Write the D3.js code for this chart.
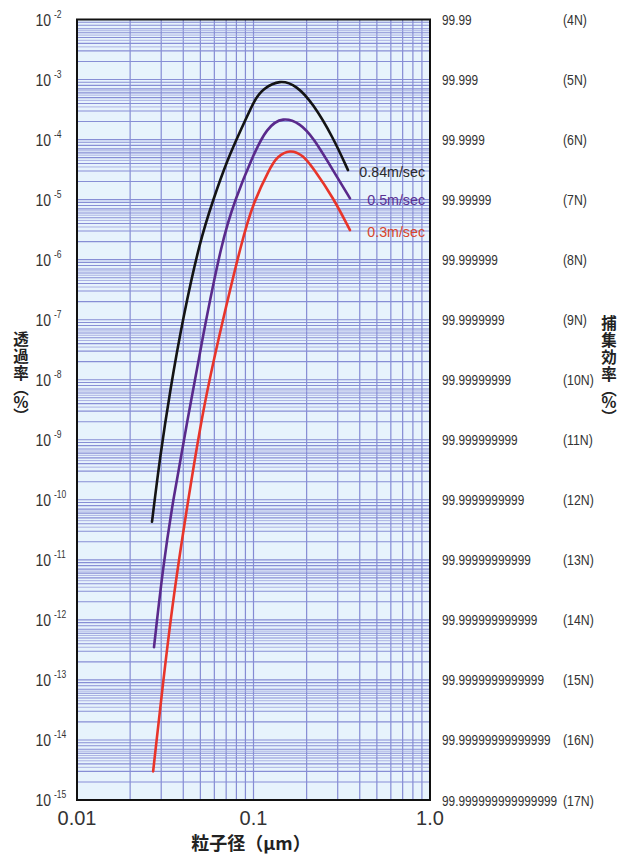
<!DOCTYPE html>
<html>
<head>
<meta charset="utf-8">
<script src="https://cdn.jsdelivr.net/npm/d3@7"></script>
<style>
  body { margin: 0; background: #fff; }
  svg { display: block; }
</style>
</head>
<body>
<script>
// penetration curves: [particle size um, penetration %]
var v084 = [[0.0266, 4.3e-11], [0.0295, 5.1e-10], [0.0337, 6.7e-9], [0.0399, 1.1e-7],
    [0.0498, 2.1e-6], [0.0590, 9.8e-6], [0.0708, 4.5e-5], [0.0861, 1.6e-4],
    [0.102, 4.8e-4], [0.113, 7.0e-4], [0.141, 1.0e-3], [0.176, 7.9e-4], [0.217, 4.0e-4],
    [0.282, 1.1e-4], [0.343, 3.1e-5]];
var v05 = [[0.0273, 3.5e-13], [0.0307, 7.6e-12], [0.0350, 1.0e-10], [0.0420, 1.9e-9],
    [0.0511, 4.6e-8], [0.0663, 2.1e-6], [0.0785, 9.8e-6], [0.098, 5.0e-5],
    [0.119, 1.6e-4], [0.147, 2.4e-4], [0.184, 1.86e-4], [0.217, 1.1e-4], [0.282, 3.1e-5],
    [0.352, 1.05e-5]];
var v03 = [[0.0270, 3.0e-15], [0.0307, 8.9e-14], [0.0350, 2.2e-12], [0.0409, 4.6e-11],
    [0.0518, 3.5e-9], [0.0663, 8.7e-8], [0.0861, 2.1e-6], [0.0994, 8.7e-6],
    [0.124, 3.4e-5], [0.136, 5.2e-5], [0.161, 6.9e-5], [0.191, 5.5e-5], [0.217, 3.4e-5],
    [0.282, 1.1e-5], [0.352, 3.1e-6]];

var seriesNames = ["0.84m/sec", "0.5m/sec", "0.3m/sec"];
var seriesColors = ["#141414", "#5a2a8c", "#e8352a"];
var labelColors = ["#2a2a2a", "#5b3294", "#d8462c"];

var yExps = [-2, -3, -4, -5, -6, -7, -8, -9, -10, -11, -12, -13, -14, -15];
var effLabels = ["99.99", "99.999", "99.9999", "99.99999", "99.999999", "99.9999999",
    "99.99999999", "99.999999999", "99.9999999999", "99.99999999999", "99.999999999999",
    "99.9999999999999", "99.99999999999999", "99.999999999999999"];
var nLabels = ["(4N)", "(5N)", "(6N)", "(7N)", "(8N)", "(9N)", "(10N)", "(11N)",
    "(12N)", "(13N)", "(14N)", "(15N)", "(16N)", "(17N)"];
var xTicks = [0.01, 0.1, 1];
var xTickLabels = ["0.01", "0.1", "1.0"];
var minorSteps = [2, 3, 4, 5, 6, 7, 8, 9];
var halfSteps = [3.5, 4.5, 5.5, 6.5];

var W = 621, H = 855;
var sans = "'Liberation Sans', Arial, Helvetica, sans-serif";
var cjk = "'Noto Sans CJK JP', 'Noto Sans CJK SC', sans-serif";

var x = d3.scaleLog().domain([0.01, 1]).range([77, 430]);
var y = d3.scaleLog().domain([1e-15, 1e-2]).range([800, 19.5]);

var svg = d3.select("body").append("svg")
    .attr("width", W)
    .attr("height", H);

// squeezed text (the original uses a condensed face)
function squeeze(sel, px, py, s) {
    return sel.attr("transform", function (d, i) {
        return "translate(" + px(d, i) + "," + py(d, i) + ") scale(" + s + ",1)";
    });
}

svg.append("rect")
    .attr("x", x(0.01)).attr("y", y(1e-2))
    .attr("width", x(1) - x(0.01)).attr("height", y(1e-15) - y(1e-2))
    .attr("fill", "#e7f3fc");

var grid = svg.append("g");

// vertical grid
var vVals = [];
[0.01, 0.1].forEach(function (dec) {
    minorSteps.forEach(function (k) { vVals.push(dec * k); });
});
vVals.push(0.1);
grid.selectAll(".vl").data(vVals).enter().append("line")
    .attr("x1", function (d) { return x(d); })
    .attr("x2", function (d) { return x(d); })
    .attr("y1", y(1e-2)).attr("y2", y(1e-15))
    .attr("stroke", "#858cd4").attr("stroke-width", 1.2);

// horizontal grid
var hVals = [], hHalf = [];
yExps.forEach(function (e) {
    if (e === -2) return;
    var dec = Math.pow(10, e);
    minorSteps.forEach(function (k) { hVals.push(dec * k); });
    halfSteps.forEach(function (k) { hHalf.push(dec * k); });
    hVals.push(dec);
});
grid.selectAll(".hh").data(hHalf).enter().append("line")
    .attr("x1", x(0.01)).attr("x2", x(1))
    .attr("y1", function (d) { return y(d); })
    .attr("y2", function (d) { return y(d); })
    .attr("stroke", "#a4aae0").attr("stroke-width", 0.9);
grid.selectAll(".hl").data(hVals).enter().append("line")
    .attr("x1", x(0.01)).attr("x2", x(1))
    .attr("y1", function (d) { return y(d); })
    .attr("y2", function (d) { return y(d); })
    .attr("stroke", "#878ed5").attr("stroke-width", 1.1);

// curves
var line = d3.line()
    .x(function (d) { return x(d[0]); })
    .y(function (d) { return y(d[1]); })
    .curve(d3.curveBasis);

[v084, v05, v03].forEach(function (s, i) {
    svg.append("path")
        .datum(s)
        .attr("fill", "none")
        .attr("stroke", seriesColors[i])
        .attr("stroke-width", 2.6)
        .attr("stroke-linecap", "round")
        .attr("d", line);
});

// curve labels
[v084, v05, v03].forEach(function (s, i) {
    var last = s[s.length - 1];
    svg.append("text")
        .attr("transform", "translate(425," + (y(last[1]) + 7) + ") scale(0.95,1)")
        .attr("text-anchor", "end")
        .attr("font-family", sans)
        .attr("font-size", 15)
        .attr("fill", labelColors[i])
        .text(seriesNames[i]);
});

// frame
svg.append("rect")
    .attr("x", x(0.01)).attr("y", y(1e-2))
    .attr("width", x(1) - x(0.01)).attr("height", y(1e-15) - y(1e-2))
    .attr("fill", "none").attr("stroke", "#111").attr("stroke-width", 2);

// left tick labels
squeeze(svg.selectAll(".lt").data(yExps).enter().append("text"),
    function () { return 51; },
    function (d) { return y(Math.pow(10, d)) + 6; }, 0.85)
    .attr("text-anchor", "end")
    .attr("font-family", sans)
    .attr("font-size", 16.5)
    .attr("fill", "#333")
    .text("10");
squeeze(svg.selectAll(".ls").data(yExps).enter().append("text"),
    function () { return 54; },
    function (d) { return y(Math.pow(10, d)) - 2; }, 0.85)
    .attr("font-family", sans)
    .attr("font-size", 10)
    .attr("fill", "#333")
    .text(function (d) { return "-" + (-d); });

// right tick labels
squeeze(svg.selectAll(".re").data(yExps).enter().append("text"),
    function () { return 442; },
    function (d) { return y(Math.pow(10, d)) + 5.5; }, 0.79)
    .attr("font-family", sans)
    .attr("font-size", 15)
    .attr("fill", "#333")
    .text(function (d, i) { return effLabels[i]; });
squeeze(svg.selectAll(".rn").data(yExps).enter().append("text"),
    function () { return 563; },
    function (d) { return y(Math.pow(10, d)) + 5.5; }, 0.82)
    .attr("font-family", sans)
    .attr("font-size", 15)
    .attr("fill", "#333")
    .text(function (d, i) { return nLabels[i]; });

// x tick labels
svg.selectAll(".xt").data(xTicks).enter().append("text")
    .attr("x", function (d) { return x(d); })
    .attr("y", 825)
    .attr("text-anchor", "middle")
    .attr("font-family", sans)
    .attr("font-size", 20)
    .attr("fill", "#333")
    .text(function (d, i) { return xTickLabels[i]; });

// axis titles
svg.append("text")
    .attr("x", 251)
    .attr("y", 850)
    .attr("text-anchor", "middle")
    .attr("font-family", cjk)
    .attr("font-weight", "bold")
    .attr("font-size", 18)
    .attr("fill", "#222")
    .text("粒子径（μm）");

function verticalTitle(chars, cx, ys) {
    chars.forEach(function (c, i) {
        svg.append("text")
            .attr("x", cx)
            .attr("y", ys[i])
            .attr("text-anchor", "middle")
            .attr("dominant-baseline", "central")
            .attr("font-family", cjk)
            .attr("font-weight", "bold")
            .attr("font-size", 15.5)
            .attr("fill", "#222")
            .text(c);
    });
}
verticalTitle(["透", "過", "率", "︵", "%", "︶"], 21, [338, 355, 372, 387, 401, 415]);
verticalTitle(["捕", "集", "効", "率", "︵", "%", "︶"], 609, [322, 339, 356, 373, 388, 401, 416]);
</script>
</body>
</html>
